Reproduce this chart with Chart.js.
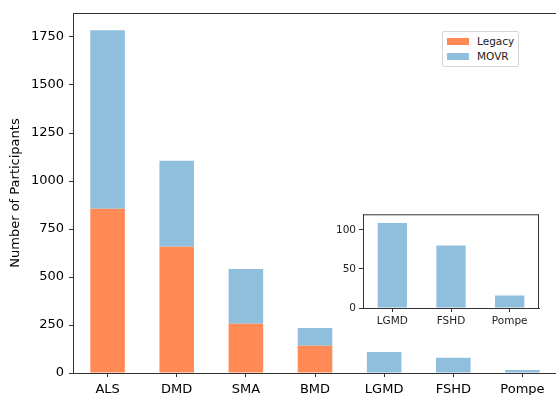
<!DOCTYPE html>
<html>
<head>
<meta charset="utf-8">
<script src="https://cdn.jsdelivr.net/npm/chart.js@4"></script>
<style>
  html, body { margin: 0; padding: 0; background: #fff; overflow: hidden; }
  #wrap { position: relative; width: 556px; height: 395px; overflow: hidden; }
  #main { position: absolute; left: 0; top: 0; }
  #inset { position: absolute; left: 333px; top: 205px; background: #fff; }
  #legend {
    position: absolute; left: 442px; top: 31px; width: 75px; height: 34px;
    border: 1px solid #d6d6d6; border-radius: 2px; background: #fff;
    font: 10.5px "DejaVu Sans", sans-serif; color: #222;
  }
  #legend div { position: absolute; left: 34px; }
  #legend span { position: absolute; left: -30px; top: 3px; width: 22px; height: 7px; }
</style>
</head>
<body>
<div id="wrap">
  <canvas id="main" width="560" height="395"></canvas>
  <div id="legend"></div>
  <canvas id="inset" width="212" height="125"></canvas>
</div>
<script>
const diseases = ['ALS', 'DMD', 'SMA', 'BMD', 'LGMD', 'FSHD', 'Pompe'];
const legacy = [855, 658, 257, 142, 0, 0, 0];
const movr = [930, 447, 285, 92, 109, 80, 16];

const smallDiseases = ['LGMD', 'FSHD', 'Pompe'];
const smallMovr = [109, 80, 16];

const orange = '#FF8A55';
const blue = '#8FBFDD';
const ink = '#222';

// draw the box lines matplotlib-style around the plot area
const frame = (sides) => ({
  id: 'frame',
  afterDraw(chart) {
    const { ctx, chartArea: a } = chart;
    ctx.save();
    ctx.strokeStyle = '#333';
    ctx.lineWidth = 1;
    ctx.beginPath();
    if (sides.includes('top')) { ctx.moveTo(a.left, a.top + 0.5); ctx.lineTo(a.right, a.top + 0.5); }
    if (sides.includes('right')) { ctx.moveTo(a.right - 0.5, a.top); ctx.lineTo(a.right - 0.5, a.bottom); }
    ctx.stroke();
    ctx.restore();
  }
});

const onlySteps = (step) => (scale) => {
  scale.ticks = scale.ticks.filter((t) => t.value % step === 0);
};

const gridLook = { drawOnChartArea: false, drawTicks: true, tickLength: 4, tickColor: '#333', offset: false };
const borderLook = { display: true, color: '#333', width: 1 };
const font = (size) => ({ family: 'DejaVu Sans', size: size });

Chart.defaults.animation = false;

new Chart(document.getElementById('main'), {
  type: 'bar',
  data: {
    labels: diseases,
    datasets: [
      { label: 'Legacy', data: legacy, backgroundColor: orange },
      { label: 'MOVR', data: movr, backgroundColor: blue },
    ]
  },
  options: {
    responsive: false,
    layout: { padding: { left: 0, top: 13, right: 3, bottom: 0 } },
    categoryPercentage: 1,
    barPercentage: 0.5,
    plugins: { legend: { display: false }, tooltip: { enabled: false } },
    scales: {
      x: {
        stacked: true,
        grid: gridLook,
        border: borderLook,
        ticks: { color: '#000', font: font(13), padding: 5 },
        afterFit: (s) => { s.height = 22; },
      },
      y: {
        stacked: true,
        min: 0,
        max: 1875,
        grid: gridLook,
        border: borderLook,
        ticks: { stepSize: 250, color: '#000', font: font(13), padding: 5, callback: (v) => String(v) },
        afterBuildTicks: onlySteps(250),
        afterFit: (s) => { s.width = 73; },
        title: {
          display: true,
          text: 'Number of Participants',
          color: '#000',
          font: font(13),
          padding: { top: 8, bottom: 0 },
        },
      }
    }
  },
  plugins: [frame(['top', 'right'])]
});

new Chart(document.getElementById('inset'), {
  type: 'bar',
  data: {
    labels: smallDiseases,
    datasets: [{ label: 'MOVR', data: smallMovr, backgroundColor: blue }]
  },
  options: {
    responsive: false,
    layout: { padding: { left: 0, top: 9, right: 6, bottom: 0 } },
    categoryPercentage: 1,
    barPercentage: 0.5,
    plugins: { legend: { display: false }, tooltip: { enabled: false } },
    scales: {
      x: {
        grid: gridLook,
        border: borderLook,
        ticks: { color: ink, font: font(10.5), padding: 3 },
        afterFit: (s) => { s.height = 22; },
      },
      y: {
        min: 0,
        max: 120,
        grid: gridLook,
        border: borderLook,
        ticks: { stepSize: 50, color: ink, font: font(10.5), padding: 3, callback: (v) => String(v) },
        afterBuildTicks: onlySteps(50),
        afterFit: (s) => { s.width = 30; },
      }
    }
  },
  plugins: [frame(['top', 'right'])]
});

// legend entries
const legend = document.getElementById('legend');
[['Legacy', orange], ['MOVR', blue]].forEach(([name, color], i) => {
  const row = document.createElement('div');
  row.style.top = (3 + i * 15) + 'px';
  const sw = document.createElement('span');
  sw.style.background = color;
  row.appendChild(sw);
  row.appendChild(document.createTextNode(name));
  legend.appendChild(row);
});
</script>
</body>
</html>
